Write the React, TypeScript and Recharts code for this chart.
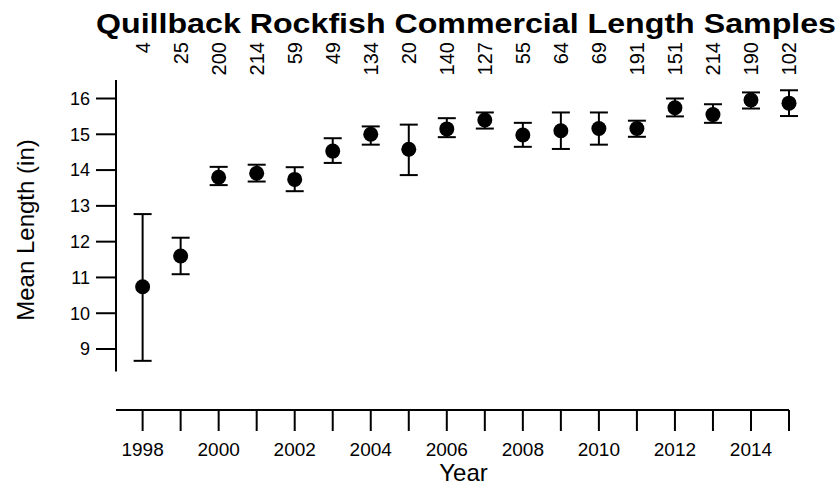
import React from 'react';
import {
  ComposedChart,
  Scatter,
  ErrorBar,
  XAxis,
  YAxis,
  ReferenceLine,
  Label,
} from 'recharts';

const years = [1998, 1999, 2000, 2001, 2002, 2003, 2004, 2005, 2006, 2007, 2008, 2009, 2010, 2011, 2012, 2013, 2014, 2015];
const meanLength = [10.74, 11.6, 13.8, 13.91, 13.74, 14.53, 15.0, 14.58, 15.15, 15.4, 14.98, 15.1, 15.16, 15.16, 15.74, 15.55, 15.96, 15.87];
const lowerBound = [8.67, 11.09, 13.58, 13.68, 13.41, 14.2, 14.71, 13.86, 14.92, 15.16, 14.65, 14.59, 14.71, 14.93, 15.5, 15.32, 15.72, 15.51];
const upperBound = [12.77, 12.11, 14.09, 14.15, 14.08, 14.89, 15.22, 15.27, 15.45, 15.61, 15.32, 15.61, 15.61, 15.38, 16.0, 15.84, 16.17, 16.23];
const sampleSize = [4, 25, 200, 214, 59, 49, 134, 20, 140, 127, 55, 64, 69, 191, 151, 214, 190, 102];
const yTicks = [9, 10, 11, 12, 13, 14, 15, 16];

const FONT = '"Liberation Sans", Arial, Helvetica, sans-serif';
const X_DOMAIN: [number, number] = [1997.3, 2015];
const Y_DOMAIN: [number, number] = [7.296, 16.517];

const data = years.map((year, i) => ({
  year,
  mean: meanLength[i],
  err: [meanLength[i] - lowerBound[i], upperBound[i] - meanLength[i]],
}));

const sizeByYear: Record<number, number> = {};
years.forEach((y, i) => (sizeByYear[y] = sampleSize[i]));

const Dot = (props: any) => <circle cx={props.cx} cy={props.cy} r={7.5} fill="#000" />;

// only even years get a label, every year gets a tick
const BottomTick = (props: any) => {
  const { x, y, payload } = props;
  if (payload.value % 2 !== 0) return <g />;
  return (
    <text x={x} y={y + 23} textAnchor="middle" fontSize={19} fontFamily={FONT} fill="#000">
      {payload.value}
    </text>
  );
};

// sample sizes along the top, reading upwards
const TopTick = (props: any) => {
  const { x, payload } = props;
  return (
    <text
      x={x}
      y={42}
      dy="0.36em"
      transform={`rotate(-90 ${x} 42)`}
      textAnchor="end"
      fontSize={20}
      fontFamily={FONT}
      fill="#000"
    >
      {sizeByYear[payload.value]}
    </text>
  );
};

export default function App() {
  return (
    <div style={{ position: 'absolute', left: 0, top: 0, width: 836, height: 486, background: '#fff' }}>
      <ComposedChart width={836} height={486} data={data} margin={{ top: 0, right: 47, bottom: 0, left: 0 }}>
        <XAxis
          xAxisId="top"
          orientation="top"
          type="number"
          dataKey="year"
          domain={X_DOMAIN}
          ticks={years}
          height={80}
          axisLine={false}
          tickLine={false}
          tickSize={0}
          tick={<TopTick />}
          interval={0}
        />
        <XAxis
          xAxisId="bottom"
          type="number"
          dataKey="year"
          domain={X_DOMAIN}
          ticks={years}
          height={76}
          interval={0}
          axisLine={{ stroke: '#000', strokeWidth: 2 }}
          tickLine={{ stroke: '#000', strokeWidth: 2 }}
          tickSize={21}
          tick={<BottomTick />}
        >
          <Label
            content={({ viewBox }: any) => (
              <text
                x={viewBox.x + viewBox.width / 2 + 11}
                y={viewBox.y + 71}
                textAnchor="middle"
                fontSize={24}
                fontFamily={FONT}
                fill="#000"
              >
                Year
              </text>
            )}
          />
        </XAxis>
        <YAxis
          type="number"
          domain={Y_DOMAIN}
          ticks={yTicks}
          width={116}
          axisLine={false}
          tickLine={{ stroke: '#000', strokeWidth: 2 }}
          tickSize={20}
          tickMargin={6}
          tick={{ fill: '#000', fontSize: 18, fontFamily: FONT }}
        >
          <Label
            content={({ viewBox }: any) => (
              <text
                x={viewBox.x + 25}
                y={viewBox.y + 150}
                transform={`rotate(-90 ${viewBox.x + 25} ${viewBox.y + 150})`}
                textAnchor="middle"
                dominantBaseline="central"
                fontSize={24}
                fontFamily={FONT}
                fill="#000"
              >
                Mean Length (in)
              </text>
            )}
          />
        </YAxis>
        <ReferenceLine
          xAxisId="bottom"
          segment={[
            { x: X_DOMAIN[0], y: 8.37 },
            { x: X_DOMAIN[0], y: 16.517 },
          ]}
          stroke="#000"
          strokeWidth={2}
        />
        <Scatter xAxisId="bottom" dataKey="mean" shape={<Dot />} isAnimationActive={false}>
          <ErrorBar dataKey="err" direction="y" width={9} stroke="#000" strokeWidth={2} isAnimationActive={false} />
        </Scatter>
      </ComposedChart>
      <svg width={836} height={486} style={{ position: 'absolute', left: 0, top: 0, pointerEvents: 'none' }}>
        <text
          x={466}
          y={33}
          textAnchor="middle"
          fontSize={28}
          fontWeight="bold"
          fontFamily={FONT}
          textLength={740}
          lengthAdjust="spacingAndGlyphs"
          fill="#000"
        >
          Quillback Rockfish Commercial Length Samples
        </text>
      </svg>
    </div>
  );
}
